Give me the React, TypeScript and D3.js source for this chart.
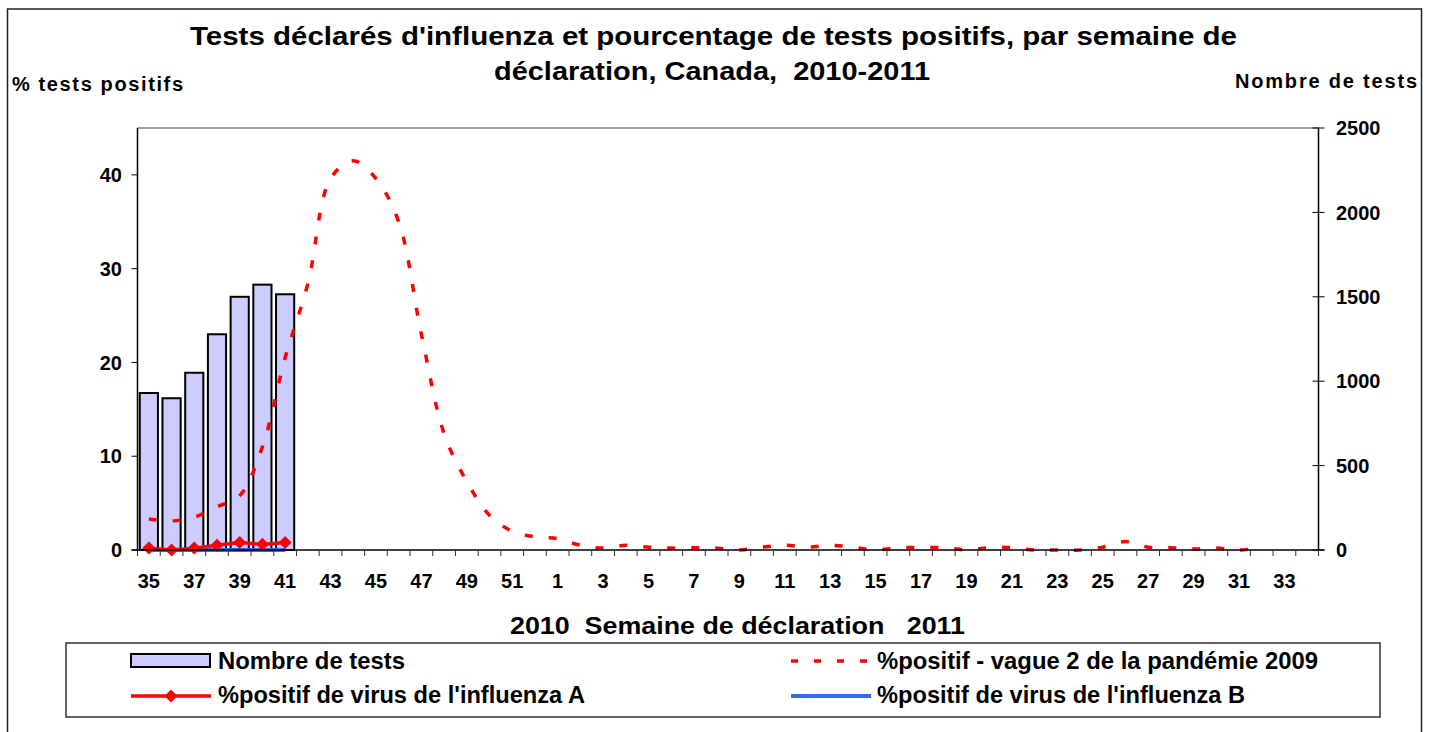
import React from "react";
import * as d3 from "d3";

const weeks: number[] = [35, 36, 37, 38, 39, 40, 41, 42, 43, 44, 45, 46, 47, 48, 49, 50, 51, 52,
  1, 2, 3, 4, 5, 6, 7, 8, 9, 10, 11, 12, 13, 14, 15, 16, 17, 18, 19, 20, 21, 22, 23, 24, 25, 26, 27, 28, 29, 30, 31, 32, 33, 34];

const testWeeks: number[] = [35, 36, 37, 38, 39, 40, 41];
const nombreTests: number[] = [930, 899, 1050, 1278, 1500, 1572, 1515];
const pctA: number[] = [0.2, 0.0, 0.2, 0.5, 0.8, 0.6, 0.8];
const pctB: number[] = [0, 0, 0, 0, 0, 0, 0];

const pandemicWeeks: number[] = [35, 36, 37, 38, 39, 40, 41, 42, 43, 44, 45, 46, 47, 48, 49, 50, 51, 52,
  1, 2, 3, 4, 5, 6, 7, 8, 9, 10, 11, 12, 13, 14, 15, 16, 17, 18, 19, 20, 21, 22, 23, 24, 25, 26, 27, 28, 29, 30, 31, 32];
const pandemicPct: number[] = [3.3, 3.1, 3.5, 4.6, 5.8, 11, 20.5, 28.4, 39.6, 41.5, 39.6, 35, 23, 12.4, 7.3, 3.7, 2.0, 1.4,
  1.2, 0.5, 0.2, 0.5, 0.3, 0.2, 0.25, 0.2, 0.0, 0.3, 0.5, 0.3, 0.5, 0.3, 0.0, 0.25, 0.25, 0.25, 0.0, 0.25, 0.25, 0.0, 0.0, 0.0, 0.3, 0.9, 0.3, 0.25, 0.1, 0.2, 0.0, 0.25];

const leftTicks: number[] = [0, 10, 20, 30, 40];
const rightTicks: number[] = [0, 500, 1000, 1500, 2000, 2500];
const xTickLabels: number[] = [35, 37, 39, 41, 43, 45, 47, 49, 51, 1, 3, 5, 7, 9, 11, 13, 15, 17, 19, 21, 23, 25, 27, 29, 31, 33];

const FONT = "'Liberation Sans', Arial, Helvetica, sans-serif";

export default function App() {
  const W = 1437, H = 732;
  const left = 137.5, right = 1318.5, top = 128, bottom = 550;

  const x = d3.scaleBand<string>().domain(weeks.map(String)).range([left, right]).padding(0);
  const step = x.step();
  const cx = (w: number) => (x(String(w)) as number) + step / 2;
  const yL = d3.scaleLinear().domain([0, 45]).range([bottom, top]);
  const yR = d3.scaleLinear().domain([0, 2500]).range([bottom, top]);

  const pandemicLine = d3.line<number>()
    .x((_, i) => cx(pandemicWeeks[i]))
    .y((d) => yL(d))
    .curve(d3.curveCatmullRom.alpha(0.5));
  const aLine = d3.line<number>().x((_, i) => cx(testWeeks[i])).y((d) => yL(d));
  const bLine = d3.line<number>().x((_, i) => cx(testWeeks[i])).y((d) => yL(d));

  const diamond = (px: number, py: number, r: number) =>
    `M${px},${py - r}L${px + r},${py}L${px},${py + r}L${px - r},${py}Z`;

  const boundaries = d3.range(weeks.length + 1).map((i) => left + i * step);

  return (
    <svg width={W} height={H} style={{ position: "absolute", left: 0, top: 0, display: "block", background: "#fff" }} fontFamily={FONT}>
      <rect x={7.5} y={9} width={1414} height={740} fill="#fff" stroke="#222" strokeWidth={1.5} />

      {/* Title */}
      <text x={713.5} y={45} textAnchor="middle" fontSize={26} fontWeight="bold" textLength={1047} lengthAdjust="spacingAndGlyphs">
        Tests déclarés d'influenza et pourcentage de tests positifs, par semaine de
      </text>
      <text x={712} y={80} textAnchor="middle" fontSize={26} fontWeight="bold" textLength={436} lengthAdjust="spacingAndGlyphs" style={{ whiteSpace: "pre" }}>
        {"déclaration, Canada,  2010-2011"}
      </text>

      {/* axis titles */}
      <text x={12} y={91} fontSize={20} fontWeight="bold" textLength={171} lengthAdjust="spacing">% tests positifs</text>
      <text x={1235} y={88} fontSize={20} fontWeight="bold" textLength={182} lengthAdjust="spacing">Nombre de tests</text>

      {/* plot frame top */}
      <line x1={left} x2={right} y1={top} y2={top} stroke="#808080" strokeWidth={1.5} />

      {/* bars */}
      {nombreTests.map((v, i) => (
        <rect key={"b" + i}
          x={(x(String(testWeeks[i])) as number) + step * 0.1}
          y={yR(v)}
          width={step * 0.8}
          height={bottom - yR(v)}
          fill="#CCCCFF" stroke="#000" strokeWidth={2} />
      ))}

      {/* pandemic dashed line */}
      <path d={pandemicLine(pandemicPct) || ""} fill="none" stroke="#FF0000" strokeWidth={3.5} strokeDasharray="8 16" />

      {/* influenza B */}
      <path d={bLine(pctB) || ""} fill="none" stroke="#3366FF" strokeWidth={4} />

      {/* influenza A */}
      <path d={aLine(pctA) || ""} fill="none" stroke="#FF0000" strokeWidth={3.5} />
      {pctA.map((v, i) => (
        <path key={"d" + i} d={diamond(cx(testWeeks[i]), yL(v), 6.5)} fill="#FF0000" />
      ))}

      {/* axes */}
      <line x1={left} x2={left} y1={top} y2={bottom} stroke="#000" strokeWidth={1.5} />
      <line x1={right} x2={right} y1={top} y2={bottom} stroke="#000" strokeWidth={1.5} />
      <line x1={left - 6} x2={right + 6} y1={bottom} y2={bottom} stroke="#000" strokeWidth={1.5} />
      {boundaries.map((bx, i) => (
        <line key={"xt" + i} x1={bx} x2={bx} y1={bottom} y2={bottom + 6} stroke="#333" strokeWidth={1} />
      ))}
      {leftTicks.map((t) => (
        <g key={"lt" + t}>
          <line x1={left - 6} x2={left} y1={yL(t)} y2={yL(t)} stroke="#000" strokeWidth={1} />
          <text x={122} y={yL(t)} dy="0.36em" textAnchor="end" fontSize={20} fontWeight="bold">{t}</text>
        </g>
      ))}
      {rightTicks.map((t) => (
        <g key={"rt" + t}>
          <line x1={right - 6} x2={right + 6} y1={yR(t)} y2={yR(t)} stroke="#000" strokeWidth={1} />
          <text x={1336} y={yR(t)} dy="0.36em" textAnchor="start" fontSize={20} fontWeight="bold">{t}</text>
        </g>
      ))}
      {xTickLabels.map((w) => (
        <text key={"xl" + w} x={cx(w)} y={588} textAnchor="middle" fontSize={20} fontWeight="bold">{w}</text>
      ))}

      <text x={737.5} y={634} textAnchor="middle" fontSize={24} fontWeight="bold" textLength={455} lengthAdjust="spacingAndGlyphs" style={{ whiteSpace: "pre" }}>
        {"2010  Semaine de déclaration   2011"}
      </text>

      {/* legend */}
      <rect x={66} y={643} width={1314} height={74} fill="#fff" stroke="#333" strokeWidth={1.5} />
      <rect x={131} y={654} width={79} height={13} fill="#CCCCFF" stroke="#000" strokeWidth={2} />
      <text x={218} y={669} fontSize={23} fontWeight="bold" textLength={187} lengthAdjust="spacingAndGlyphs">Nombre de tests</text>

      <line x1={131} x2={211} y1={696} y2={696} stroke="#FF0000" strokeWidth={3.5} />
      <path d={diamond(171, 696, 6.5)} fill="#FF0000" />
      <text x={218} y={703} fontSize={23} fontWeight="bold" textLength={367} lengthAdjust="spacingAndGlyphs">%positif de virus de l'influenza A</text>

      <line x1={791} x2={871} y1={661} y2={661} stroke="#FF0000" strokeWidth={3.5} strokeDasharray="7 16" />
      <text x={877} y={669} fontSize={23} fontWeight="bold" textLength={441} lengthAdjust="spacingAndGlyphs">%positif - vague 2 de la pandémie 2009</text>

      <line x1={791} x2={871} y1={696} y2={696} stroke="#3366FF" strokeWidth={4} />
      <text x={877} y={703} fontSize={23} fontWeight="bold" textLength={368} lengthAdjust="spacingAndGlyphs">%positif de virus de l'influenza B</text>
    </svg>
  );
}
